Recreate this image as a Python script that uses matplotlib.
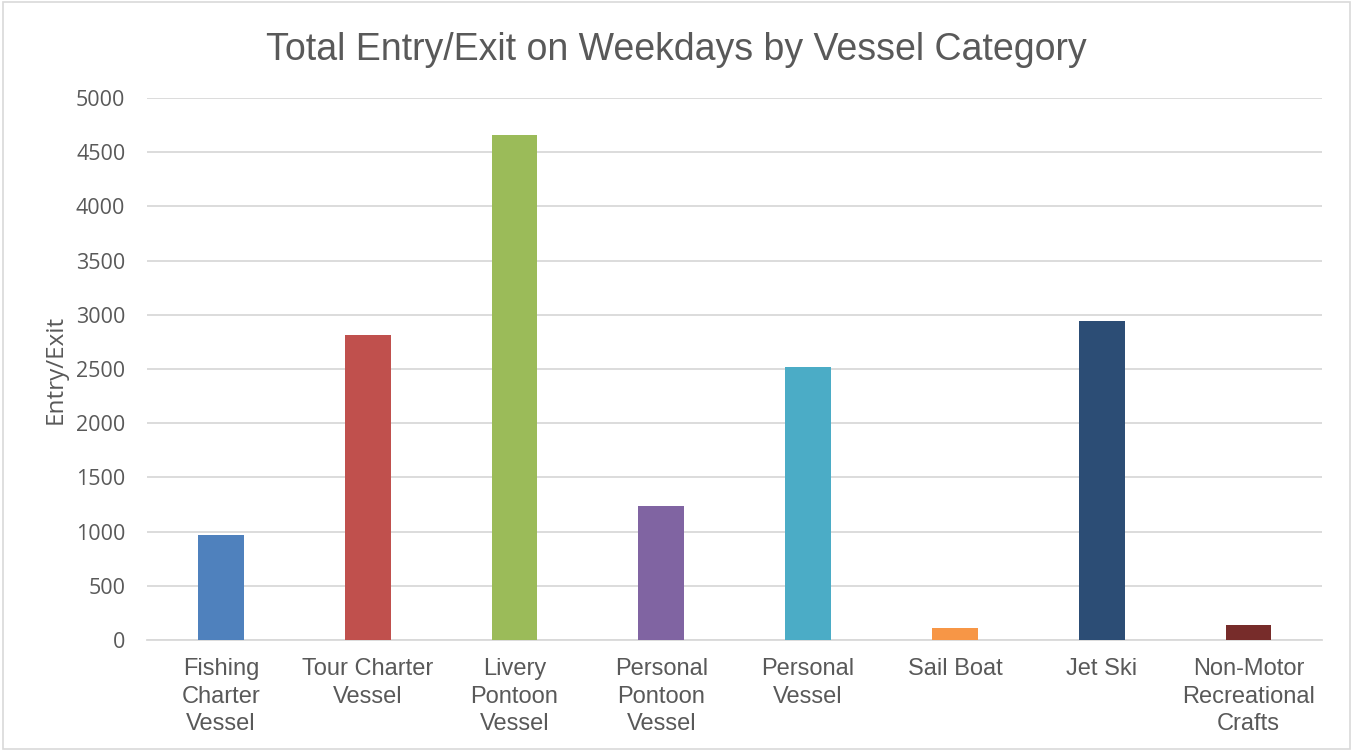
import matplotlib
matplotlib.use("Agg")
import matplotlib.pyplot as plt
from matplotlib.patches import Rectangle

# Дані
categories = ["Fishing\nCharter\nVessel", "Tour Charter\nVessel", "Livery\nPontoon\nVessel",
              "Personal\nPontoon\nVessel", "Personal\nVessel", "Sail Boat", "Jet Ski",
              "Non-Motor\nRecreational\nCrafts"]
values = [969, 2816, 4663, 1239, 2521, 110, 2944, 137]
colors = ["#4F81BD", "#C0504D", "#9BBB59", "#8064A2", "#4BACC6", "#F79646", "#2C4D75", "#772C2A"]
yticks = [0, 500, 1000, 1500, 2000, 2500, 3000, 3500, 4000, 4500, 5000]

plt.rcParams["font.family"] = ["Liberation Sans", "DejaVu Sans"]
text_color = "#595959"

fig = plt.figure(figsize=(13.53, 7.5), dpi=100)
ax = fig.add_axes([0.109, 0.1467, 0.868, 0.7226])

x = list(range(len(categories)))
ax.bar(x, values, width=0.313, color=colors, zorder=3)
ax.set_xlim(-0.5, len(categories) - 0.5)
ax.set_ylim(0, 5000)
ax.set_yticks(yticks)
ax.set_yticklabels([str(v) for v in yticks], family=["Open Sans", "DejaVu Sans"])
ax.set_xticks(x)
ax.set_xticklabels(categories, fontsize=17, color=text_color, linespacing=1.33)
ax.tick_params(axis="y", labelsize=15.5, labelcolor=text_color, length=0, pad=16)
ax.tick_params(axis="x", length=0, pad=13)
ax.grid(axis="y", color="#D9D9D9", linewidth=1.3, zorder=0)
for s in ["top", "right", "left"]:
    ax.spines[s].set_visible(False)
ax.spines["bottom"].set_color("#D9D9D9")
ax.spines["bottom"].set_linewidth(1.3)

ax.set_ylabel("Entry/Exit", fontsize=17.5, color=text_color, labelpad=6,
              family=["Open Sans", "DejaVu Sans"])
fig.text(0.5, 1 - 60 / 750, "Total Entry/Exit on Weekdays by Vessel Category",
         ha="center", va="baseline", fontsize=27, color=text_color)

# рамка діаграми
fig.patches.append(Rectangle((0.002, 0.002), 0.996, 0.996, transform=fig.transFigure,
                             fill=False, edgecolor="#D9D9D9", linewidth=1.2))

fig.savefig("out.png", dpi=100)
